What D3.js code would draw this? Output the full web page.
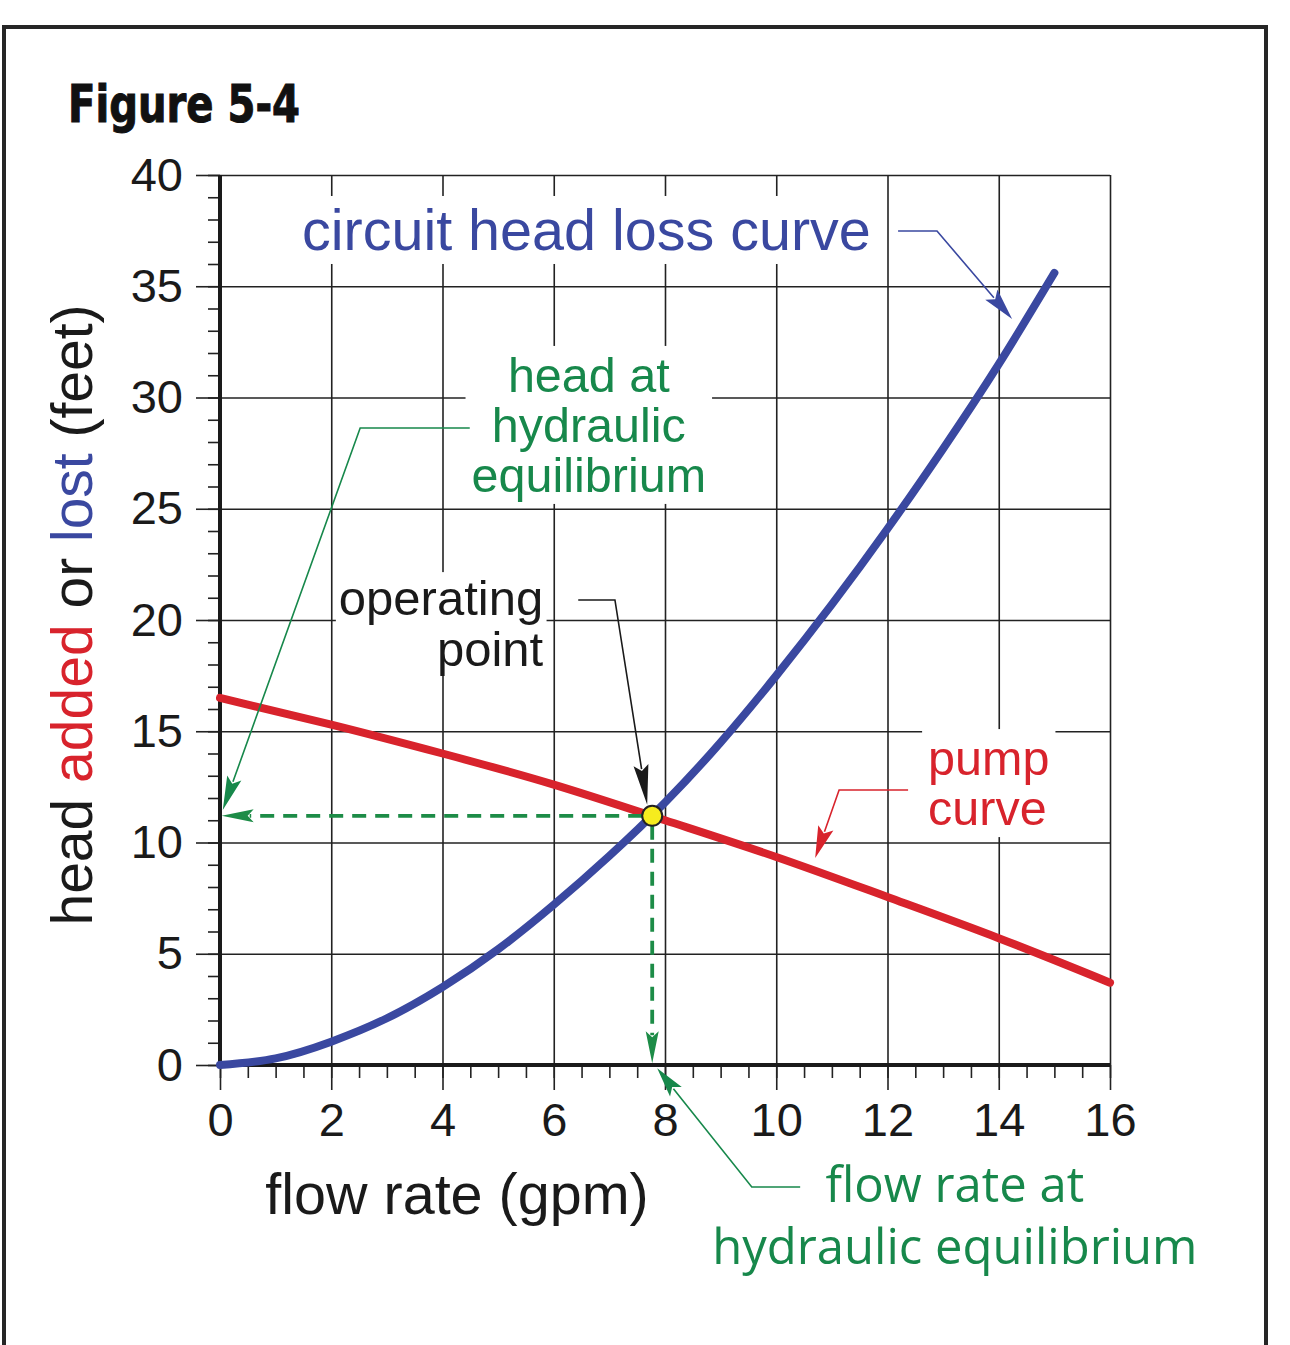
<!DOCTYPE html>
<html>
<head>
<meta charset="utf-8">
<script src="https://cdn.jsdelivr.net/npm/d3@7"></script>
<style>
  body { margin: 0; background: #fff; }
  svg { display: block; }
</style>
</head>
<body>
<div class="svg"></div>
<script>
// circuit head loss curve
var lossFlow = [0, 1, 2, 3, 4, 5, 6, 7, 8, 9, 10, 11, 12, 13, 14, 15];
var lossHead = [0, 0.3, 1.05, 2.1, 3.5, 5.2, 7.2, 9.4, 11.8, 14.5, 17.5, 20.7, 24.1, 27.7, 31.5, 35.6];

// pump curve
var pumpFlow = [0, 2, 4, 6, 8, 10, 12, 14, 16];
var pumpHead = [16.5, 15.3, 14.0, 12.6, 11.0, 9.35, 7.55, 5.7, 3.7];

// operating point (flow, head)
var opPoint = [7.77, 11.2];

var xTicks = [0, 2, 4, 6, 8, 10, 12, 14, 16];
var yTicks = [0, 5, 10, 15, 20, 25, 30, 35, 40];

var W = 1290, H = 1345;
var plot = { left: 220, right: 1110, top: 175, bottom: 1065 };

var blue = '#3a48a0', red = '#d8232c', green = '#17884b', ink = '#1a1a1a';
var font = '"Liberation Sans", Arial, Helvetica, sans-serif';

var x = d3.scaleLinear().domain([0, 16]).range([plot.left, plot.right]);
var y = d3.scaleLinear().domain([0, 40]).range([plot.bottom, plot.top]);

var svg = d3.select('div.svg').append('svg')
    .attr('width', W)
    .attr('height', H);

// outer frame
svg.append('rect')
    .attr('x', 4).attr('y', 27)
    .attr('width', 1262).attr('height', 1400)
    .attr('fill', 'none')
    .attr('stroke', '#262626')
    .attr('stroke-width', 4);

svg.append('text')
    .attr('x', 68).attr('y', 122)
    .attr('font-family', '"DejaVu Sans Condensed", "DejaVu Sans", sans-serif')
    .attr('font-weight', 'bold')
    .attr('font-size', 51)
    .attr('textLength', 232)
    .attr('lengthAdjust', 'spacingAndGlyphs')
    .attr('fill', '#111')
    .attr('stroke', '#111')
    .attr('stroke-width', 1)
    .text('Figure 5-4');

// grid
var grid = svg.append('g');
grid.append('g')
    .attr('transform', 'translate(0,' + plot.bottom + ')')
    .call(d3.axisBottom(x).tickValues(xTicks.slice(1)).tickSize(-(plot.bottom - plot.top)).tickFormat(''));
grid.append('g')
    .attr('transform', 'translate(' + plot.left + ',0)')
    .call(d3.axisLeft(y).tickValues(yTicks.slice(1)).tickSize(-(plot.right - plot.left)).tickFormat(''));
grid.selectAll('.domain').remove();
grid.selectAll('line').attr('stroke', '#222').attr('stroke-width', 1.6);

// minor ticks
var minor = svg.append('g');
minor.append('g')
    .attr('transform', 'translate(' + plot.left + ',0)')
    .call(d3.axisLeft(y).tickValues(d3.range(0, 41, 1)).tickSize(12).tickFormat(''));
minor.append('g')
    .attr('transform', 'translate(0,' + plot.bottom + ')')
    .call(d3.axisBottom(x).tickValues(d3.range(0, 16.01, 0.5)).tickSize(13).tickFormat(''));
minor.selectAll('.domain').remove();
minor.selectAll('line').attr('stroke', '#222').attr('stroke-width', 1.6);

// major ticks + labels
var yAx = svg.append('g')
    .attr('transform', 'translate(' + plot.left + ',0)')
    .call(d3.axisLeft(y).tickValues(yTicks).tickSize(24).tickPadding(13));
var xAx = svg.append('g')
    .attr('transform', 'translate(0,' + plot.bottom + ')')
    .call(d3.axisBottom(x).tickValues(xTicks).tickSize(25).tickPadding(13));
[yAx, xAx].forEach(function (ax) {
    ax.select('.domain').remove();
    ax.selectAll('line').attr('stroke', '#222').attr('stroke-width', 1.6);
    ax.selectAll('text')
        .attr('font-family', font)
        .attr('font-size', 47)
        .attr('fill', ink);
});

// heavy axis lines
svg.append('line')
    .attr('x1', x(0)).attr('x2', x(0))
    .attr('y1', y(40)).attr('y2', y(0))
    .attr('stroke', ink).attr('stroke-width', 4);
svg.append('line')
    .attr('x1', x(0)).attr('x2', x(16))
    .attr('y1', y(0)).attr('y2', y(0))
    .attr('stroke', ink).attr('stroke-width', 4);

// axis titles
svg.append('text')
    .attr('x', 457).attr('y', 1214)
    .attr('text-anchor', 'middle')
    .attr('font-family', font)
    .attr('font-size', 57.5)
    .attr('fill', ink)
    .text('flow rate (gpm)');

var yTitle = svg.append('text')
    .attr('transform', 'translate(92,615) rotate(-90)')
    .attr('text-anchor', 'middle')
    .attr('font-family', font)
    .attr('font-size', 57)
    .attr('fill', ink);
[['head ', ink], ['added', red], [' or ', ink], ['lost', blue], [' (feet)', ink]].forEach(function (p) {
    yTitle.append('tspan').attr('fill', p[1]).text(p[0]);
});

// labels with white backing so the grid breaks around them
function label(lines, px, py, step, anchor, color, size, pad) {
    var g = svg.append('g');
    var bg = g.append('rect').attr('fill', '#fff');
    var t = g.append('text')
        .attr('font-family', font)
        .attr('font-size', size)
        .attr('fill', color)
        .attr('text-anchor', anchor);
    lines.forEach(function (s, i) {
        t.append('tspan').attr('x', px).attr('y', py + i * step).text(s);
    });
    var b = t.node().getBBox();
    bg.attr('x', b.x - pad).attr('y', b.y - pad + 4)
        .attr('width', b.width + pad * 2).attr('height', b.height + pad * 2 - 8);
    return g;
}

label(['circuit head loss curve'], x(1.474), y(36.63), 0, 'start', blue, 57.5, 6);
label(['head at', 'hydraulic', 'equilibrium'], x(6.63), y(30.25), 50, 'middle', green, 48.5, 6);
label(['operating', 'point'], x(5.81), y(20.22), 51, 'end', ink, 49, 3);
label(['pump', 'curve'], x(12.73), y(13.03), 50, 'start', red, 48.5, 6);

var flowLbl = svg.append('text')
    .attr('font-family', '"Open Sans", "Noto Sans", sans-serif')
    .attr('font-size', 49)
    .attr('fill', green)
    .attr('text-anchor', 'middle');
['flow rate at', 'hydraulic equilibrium'].forEach(function (s, i) {
    flowLbl.append('tspan').attr('x', x(13.21)).attr('y', y(-6.16) + i * 62).text(s);
});

// curves
var line = d3.line()
    .x(function (d) { return x(d[0]); })
    .y(function (d) { return y(d[1]); })
    .curve(d3.curveNatural);

svg.append('path')
    .attr('d', line(pumpFlow.map(function (f, i) { return [f, pumpHead[i]]; })))
    .attr('fill', 'none')
    .attr('stroke', red)
    .attr('stroke-width', 8)
    .attr('stroke-linecap', 'round');

svg.append('path')
    .attr('d', line(lossFlow.map(function (f, i) { return [f, lossHead[i]]; })))
    .attr('fill', 'none')
    .attr('stroke', blue)
    .attr('stroke-width', 8)
    .attr('stroke-linecap', 'round');

// arrow helper: polyline in data units, filled head at the last point
function arrow(pts, color, width, len, half, dash) {
    var p = pts.map(function (d) { return [x(d[0]), y(d[1])]; });
    var n = p.length;
    var tip = p[n - 1], prev = p[n - 2];
    var a = Math.atan2(tip[1] - prev[1], tip[0] - prev[0]);
    var c = Math.cos(a), s = Math.sin(a);
    var base = [tip[0] - len * c, tip[1] - len * s];
    var body = p.slice(0, n - 1).concat([[tip[0] - (len - 4) * c, tip[1] - (len - 4) * s]]);
    svg.append('path')
        .attr('d', d3.line()(body))
        .attr('fill', 'none')
        .attr('stroke', color)
        .attr('stroke-width', width)
        .attr('stroke-dasharray', dash || null);
    var notch = [tip[0] - (len - 6) * c, tip[1] - (len - 6) * s];
    svg.append('path')
        .attr('d', d3.line()([
            tip,
            [base[0] - half * s, base[1] + half * c],
            notch,
            [base[0] + half * s, base[1] - half * c]
        ]) + 'Z')
        .attr('fill', color);
}

// leaders
arrow([[12.19, 37.48], [12.89, 37.48], [14.24, 33.53]], blue, 1.6, 32, 8);
arrow([[4.49, 28.63], [2.52, 28.63], [0.05, 11.46]], green, 1.6, 34, 7.5);
arrow([[6.44, 20.9], [7.10, 20.9], [7.68, 11.7]], ink, 1.6, 40, 7.5);
arrow([[12.37, 12.36], [11.13, 12.36], [10.70, 9.30]], red, 1.6, 32, 8);
arrow([[10.43, -5.48], [9.56, -5.48], [7.86, -0.15]], green, 1.6, 30, 7.5);

// equilibrium dashed projections
arrow([[opPoint[0] - 0.18, opPoint[1]], [0.03, opPoint[1]]], '#1d8c47', 3.8, 32, 6.5, '14,9');
arrow([[opPoint[0], opPoint[1] - 0.45], [opPoint[0], 0.08]], '#1d8c47', 3.8, 32, 6.5, '14,9');

svg.append('circle')
    .attr('cx', x(opPoint[0]))
    .attr('cy', y(opPoint[1]))
    .attr('r', 10)
    .attr('fill', '#f6ec1e')
    .attr('stroke', '#222')
    .attr('stroke-width', 2);
</script>
</body>
</html>
